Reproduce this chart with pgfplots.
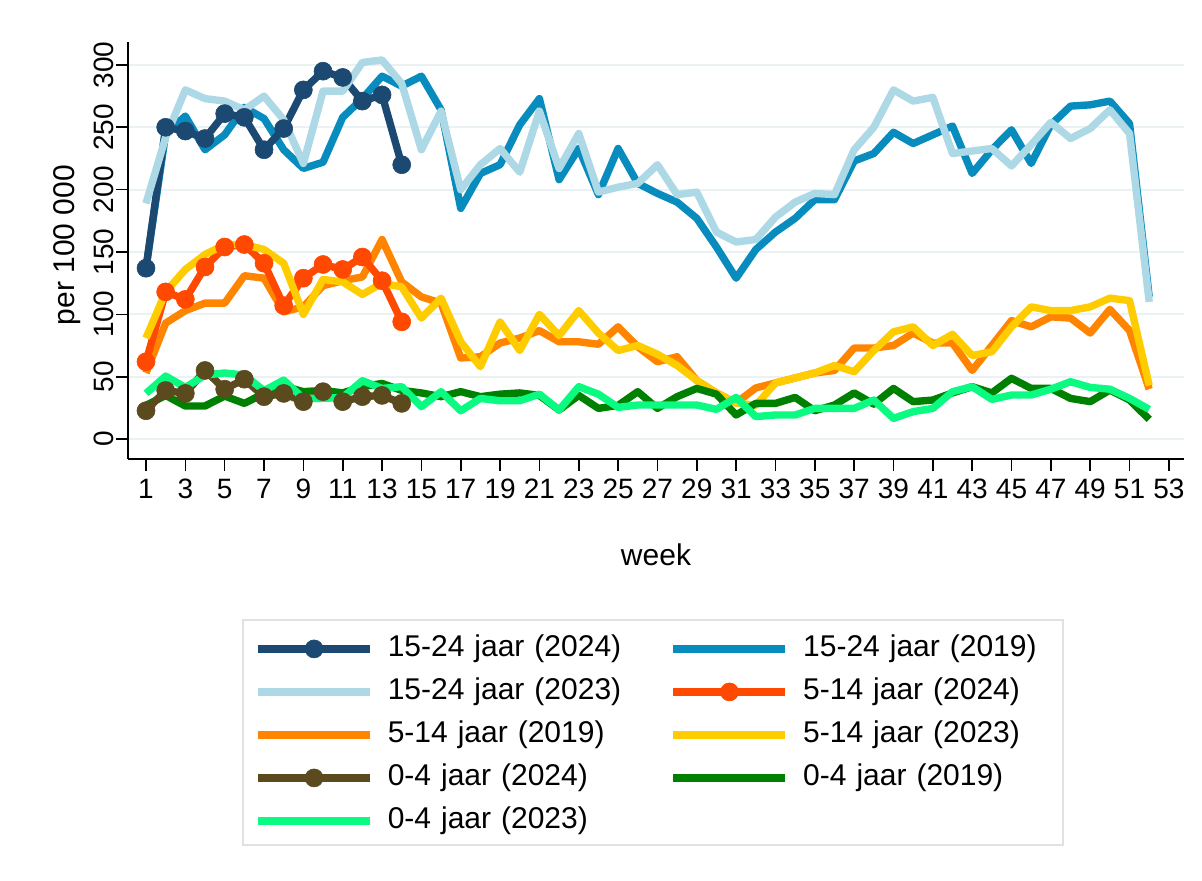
\documentclass[border=0pt]{standalone}
\usepackage{fontspec}
\setmainfont{Liberation Sans}
\usepackage{pgfplots}
\usepackage{pgfplotstable}
\pgfplotsset{compat=1.18}

\definecolor{cNavy}{RGB}{28,73,114}
\definecolor{cMid}{RGB}{8,140,190}
\definecolor{cLight}{RGB}{173,216,230}
\definecolor{cRed}{RGB}{255,72,0}
\definecolor{cOrange}{RGB}{255,133,0}
\definecolor{cYellow}{RGB}{255,204,0}
\definecolor{cBrown}{RGB}{90,74,30}
\definecolor{cGreen}{RGB}{0,128,0}
\definecolor{cSpring}{RGB}{10,250,130}
\definecolor{cGrid}{RGB}{234,242,243}

% week, 15-24, 5-14, 0-4
\pgfplotstableread{
w a b c
1 137 53 27
2 245 93 35
3 259 103 26.5
4 232 109 26.5
5 244 109 34.5
6 266 131 28.6
7 257 129 36.6
8 232 102 42.5
9 217 106 38
10 222 123 39
11 258 127 37
12 273 130 42
13 291 160 44.6
14 283 126 39
15 291 114 37
16 264 109 34
17 185 65 38
18 213 66 34
19 220 77 36
20 252 81 37
21 273 87 35
22 208 78 23.3
23 233 78 35
24 196 76 24.6
25 233 90 27
26 205 74 38
27 197 62 24.6
28 190 66 34
29 177 47 40.6
30 154 37 36
31 129 29 19.3
32 152 41 28.6
33 166 45 28.6
34 177 49 33.4
35 192 53 22.7
36 192 55 27.3
37 223 73 37
38 229 73 28
39 246 75 40.6
40 237 85 30
41 244 77 31.3
42 251 77 37
43 213 55 42
44 232 75 37
45 248 95 48.7
46 221 90 40.6
47 252 98 40.6
48 267 97 32.6
49 268 85 30
50 271 104 39.3
51 253 87 31.3
52 114 40 15.8
}\tblA

\pgfplotstableread{
w a b c
1 189 81 36.6
2 242 118 50.5
3 280 136 41.4
4 273 148 51.3
5 271 156 53
6 264 156 51.3
7 275 152 38.8
8 256 141 47.3
9 221 100 32.6
10 279 128 32.6
11 279 126 33.4
12 302 116 46.8
13 304 125 40.6
14 285 122 42
15 232 97 26
16 263 113 38
17 200 78 22.7
18 220 58 32.6
19 233 94 30.7
20 214 71 30.7
21 263 100 36
22 217 83 23.3
23 245 103 42
24 198 85 36
25 202 71 25.4
26 205 75 27.3
27 220 68 27.3
28 196 59 27.3
29 198 47 27.3
30 166 37 23.8
31 158 29 33.4
32 160 27 18
33 178 45 19.3
34 190 49 19.3
35 197 53 24.6
36 196 59 24.6
37 232 54 24.6
38 250 71 31.3
39 280 86 16.6
40 271 90 22
41 274 75 24.6
42 229 84 38
43 231 67 42
44 233 70 31.8
45 219 90 35.3
46 236 106 35.3
47 254 103 40
48 241 103 46
49 249 106 41.4
50 264 113 40
51 245 111 32.6
52 110 43 23.8
}\tblC

\pgfplotstableread{
w a b c
1 137 62 22.7
2 250 118 39
3 247 112 36.6
4 241 138 55
5 261 154 40
6 258 156 48
7 232 141 34
8 249 107 36.6
9 280 129 30
10 295 140 38
11 290 136 30
12 271 146 34
13 276 127 35
14 220 94 28.6
}\tblB

\begin{document}
\begin{tikzpicture}
\path[use as bounding box] (0,0) rectangle (601pt,440pt);
\begin{axis}[
  at={(64pt,210.5pt)}, anchor=south west,
  scale only axis, width=528pt, height=208.5pt,
  xmin=0.085, xmax=53.77, ymin=-16, ymax=318.4,
  axis x line*=bottom, axis y line*=left,
  axis line style={line width=0.8pt, -},
  xtick={1,3,...,53}, ytick={0,50,...,300},
  tick align=outside, major tick length=6pt,
  tick style={black, line width=0.8pt},
  ymajorgrids, grid style={line width=1pt, color=cGrid},
  /pgf/number format/assume math mode=true,
  ticklabel style={font=\fontsize{14}{16}\selectfont},
  yticklabel style={rotate=90, anchor=south, inner sep=1pt},
  xticklabel style={inner sep=2pt, yshift=-2pt},
  xlabel={week}, ylabel={per 100 000},
  label style={font=\fontsize{15}{18}\selectfont},
  xlabel style={at={(axis description cs:0.5,-0.2302)}, anchor=center},
  ylabel style={at={(axis description cs:-0.0578,0.513)}, anchor=center},
  legend columns=2,
  legend style={at={(rel axis cs:0.1193,-0.4209)}, anchor=north west,
    draw=none, fill=none, inner sep=0pt, column sep=7pt, row sep=7.5pt,
    font=\fontsize{15}{18}\selectfont,
    nodes={inner sep=0pt, text width=134pt, text height=11pt, text depth=3pt, align=left}},
  legend image code/.code={\draw[mark repeat=2,mark phase=2,#1] plot coordinates {(0pt,0pt) (28pt,0pt) (56pt,0pt)};},
  every axis plot/.append style={line width=3.7pt, line join=round},
  mark size=4.5pt,
]
% drawing order
\addplot[cMid, forget plot] table[x=w,y=a]{\tblA};
\addplot[cNavy, mark=*, mark options={line width=0.3pt}, forget plot] table[x=w,y=a]{\tblB};
\addplot[cLight, forget plot] table[x=w,y=a]{\tblC};
\addplot[cOrange, forget plot] table[x=w,y=b]{\tblA};
\addplot[cRed, mark=*, mark options={line width=0.3pt}, forget plot] table[x=w,y=b]{\tblB};
\addplot[cYellow, forget plot] table[x=w,y=b]{\tblC};
\addplot[cGreen, forget plot] table[x=w,y=c]{\tblA};
\addplot[cBrown, mark=*, mark options={line width=0.3pt}, forget plot] table[x=w,y=c]{\tblB};
\addplot[cSpring, forget plot] table[x=w,y=c]{\tblC};
% legend
\addlegendimage{cNavy, mark=*, mark options={line width=0.3pt}, line width=3.7pt}\addlegendentry{15-24 jaar (2024)}
\addlegendimage{cMid, line width=3.7pt}\addlegendentry{15-24 jaar (2019)}
\addlegendimage{cLight, line width=3.7pt}\addlegendentry{15-24 jaar (2023)}
\addlegendimage{cRed, mark=*, mark options={line width=0.3pt}, line width=3.7pt}\addlegendentry{5-14 jaar (2024)}
\addlegendimage{cOrange, line width=3.7pt}\addlegendentry{5-14 jaar (2019)}
\addlegendimage{cYellow, line width=3.7pt}\addlegendentry{5-14 jaar (2023)}
\addlegendimage{cBrown, mark=*, mark options={line width=0.3pt}, line width=3.7pt}\addlegendentry{0-4 jaar (2024)}
\addlegendimage{cGreen, line width=3.7pt}\addlegendentry{0-4 jaar (2019)}
\addlegendimage{cSpring, line width=3.7pt}\addlegendentry{0-4 jaar (2023)}
\end{axis}
\draw[color={rgb,255:red,222;green,226;blue,228}, line width=0.8pt] (121.5pt,17.5pt) rectangle (531.5pt,130pt);
\end{tikzpicture}
\end{document}
